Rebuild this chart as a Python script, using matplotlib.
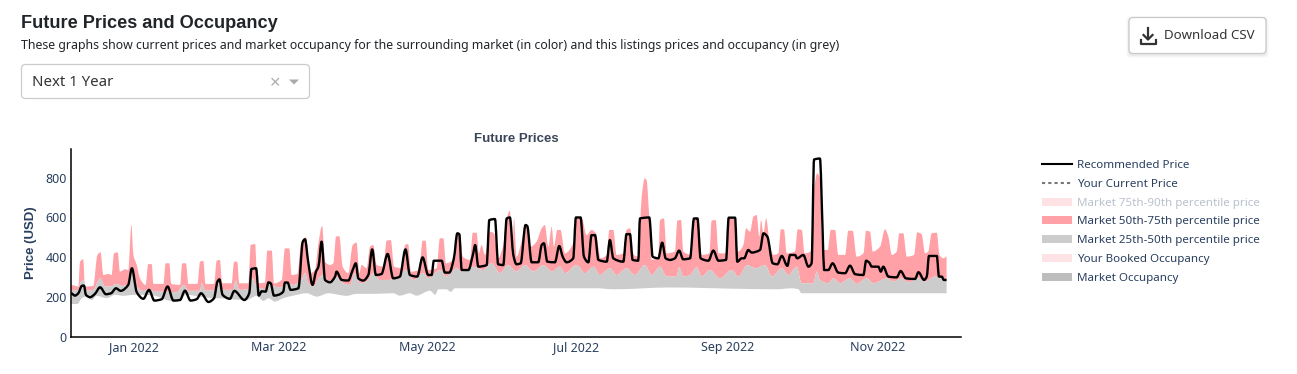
from datetime import datetime

import matplotlib.pyplot as plt
import matplotlib.dates as mdates
import numpy as np
from matplotlib.lines import Line2D
from matplotlib.patches import FancyBboxPatch, PathPatch, Patch, Polygon
from matplotlib.path import Path

plt.rcParams['font.family'] = ['Noto Sans', 'DejaVu Sans']

# days counted from the left edge of the x axis
START = datetime(2021, 12, 6, 6)

rec_days = [0, 1.6, 3, 4.4, 5.3, 6.1, 7.8, 9.8, 11.9, 14.3, 16.4, 18.4, 20.3, 23.4, 24.9, 26.9, 29.6, 31.9, 34.1,
            37.1, 39.5, 41.9, 44.6, 46.6, 48.9, 51.4, 53.2, 56.2, 58.5, 59.9, 60.7, 62, 65, 66.8, 70.9, 72.9, 73.8,
            75.7, 76.8, 78, 79.6, 80.8, 81.7, 83, 84.8, 86.8, 87.5, 88.6, 89.8, 93, 94.8, 95.7, 97, 98.8, 100.2,
            101.2, 102.5, 103.9, 105.9, 108, 108.6, 110.7, 113.4, 115.2, 116.5, 117.5, 119.5, 121.6, 123.2, 124.7,
            127, 129.5, 131.8, 134.5, 136.8, 138.6, 141.6, 143.8, 146.1, 147.5, 148.4, 151.6, 152.9, 154.7, 156.6,
            158, 158.8, 159.8, 162.5, 164.5, 165.3, 166.6, 170, 171.1, 173.4, 174.7, 176.8, 178.2, 179.5, 180.9,
            182.2, 183.9, 185.9, 186.6, 188.4, 191.1, 192.5, 193.4, 194.8, 197.9, 199.7, 201.1, 202.7, 205.4, 206.5,
            208.4, 209.8, 211.6, 212.9, 214.3, 215.7, 219.1, 220.4, 221.8, 225.9, 227.2, 228.6, 229.7, 232, 232.7,
            236.5, 237.9, 240.2, 241.8, 243.2, 245, 247, 248.7, 250.4, 253.2, 254.8, 256.2, 257.5, 260.7, 262.7,
            264.8, 267.9, 269, 271.6, 272.5, 274.3, 275.3, 277, 278.4, 281.8, 283.2, 284.8, 287, 288.9, 290.7, 293,
            294.1, 296.1, 297, 299.5, 301.6, 302.9, 303.9, 306.3, 307.4, 308, 309.7, 311.5, 313.8, 316.6, 318.6,
            320.7, 324.1, 325.2, 326.5, 327.5, 330.2, 331.2, 332.2, 334.3, 337.7, 339.3, 341.5, 345.2, 346.6, 348.9,
            350, 350.9, 354.1, 355, 356.1, 357, 358.1]
rec_price = [218, 206, 218, 255, 257, 210, 198, 215, 248, 213, 218, 243, 230, 260, 344, 223, 190, 235, 181,
             188, 252, 181, 184, 231, 181, 188, 218, 174, 193, 277, 288, 210, 190, 230, 184, 218, 340,
             344, 206, 228, 226, 273, 268, 206, 210, 226, 272, 272, 235, 243, 478, 490, 377, 260, 327,
             352, 478, 285, 273, 302, 327, 285, 282, 335, 369, 293, 282, 310, 439, 310,
             315, 416, 293, 302, 439, 310, 302, 399, 310, 310, 382, 382, 322, 322, 394,
             520, 516, 335, 335, 419, 461, 352, 360, 587, 592, 364, 360, 595, 600, 411,
             364, 369, 562, 557, 374, 374, 461, 470, 377, 374, 456, 402, 374, 394, 600,
             600, 402, 374, 511, 511, 386, 377, 486, 394, 377, 516, 516, 386, 382, 595,
             600, 402, 394, 473, 394, 386, 394, 433, 389, 394, 595, 595, 394, 382, 433,
             382, 386, 599, 599, 377, 394, 394, 436, 423, 436, 520, 503, 369, 364, 406, 356,
             411, 411, 394, 411, 352, 369, 892, 897, 537, 335, 335, 369, 322, 319, 357,
             314, 310, 382, 372, 352, 352, 327, 352, 302, 298, 330, 293, 290, 324, 285,
             302, 406, 406, 302, 302, 285, 285]

p75_days = [0, 3, 3.7, 5, 5.7, 9.1, 10.8, 12.1, 13.2, 15.3, 16.6, 17.6, 19.1, 20, 22.1, 23.4, 24.7, 25.5, 26.9, 28.2,
            30.5, 31.6, 33, 33.7, 37.8, 38.7, 40.2, 41, 44.6, 45.5, 47, 48, 51.7, 52.8, 54.1, 55, 58.5, 59.6, 60.9,
            61.8, 65.7, 66.7, 68, 68.8, 72.5, 73.5, 75.3, 76.2, 79.3, 80.3, 82.1, 83, 86.2, 87.5, 89.3, 90.2, 92.6,
            94.1, 96.1, 97.8, 99.8, 101.2, 102.7, 103.9, 105.9, 107.3, 108.4, 109.7, 111.1, 113.4, 115.2, 116.8,
            117.9, 118.9, 120.9, 122.3, 123.6, 125, 127.7, 129.1, 130.8, 132.1, 135.6, 136.6, 137.9, 139, 142.4,
            143.8, 145, 146.1, 149.5, 150.9, 152.3, 153.3, 157, 158, 159.1, 160.2, 163.2, 164.3, 165.9, 166.8,
            167.9, 169.3, 171.3, 173, 174.7, 176.8, 178.2, 179.5, 180.5, 181.2, 182.2, 184.3, 186.3, 188, 190.4,
            192.5, 193.8, 195.2, 196.6, 197.5, 198.9, 200.2, 202, 205.4, 206.8, 208.8, 210.9, 212.9, 214.7, 216.6,
            219.1, 220.2, 221.8, 223.1, 225.9, 227.2, 228.6, 230.2, 232, 233.4, 234.7, 235.4, 236.5, 237.5, 240.2,
            240.9, 242.5, 243.6, 247, 248, 249.5, 250.4, 253.9, 254.9, 256.6, 257.9, 261.1, 262, 263.7, 264.8,
            268.2, 269.1, 271.2, 272.9, 275, 276.1, 277.7, 279.1, 280.4, 281.5, 282.2, 283.2, 284.3, 285.9, 287.3,
            289.3, 290.3, 291.6, 292.7, 296.1, 297.2, 298.9, 300, 302.5, 303.6, 305.2, 306.3, 307.3, 309.5, 310.7,
            312.5, 313.8, 316.6, 317.9, 319.7, 321.3, 324.1, 325.2, 326.8, 327.9, 330.9, 332.9, 334.3, 335.7, 337.7,
            338.8, 340.4, 341.8, 344.8, 346.1, 347.9, 349.3, 350.6, 352, 354.1, 355.2, 356.8, 358.1]
p75_price = [260, 252, 377, 389, 252, 255, 411, 424, 310, 315, 310, 419, 424, 327, 339, 335, 562, 411, 360, 293,
             260, 365, 365, 265, 265, 369, 369, 265, 260, 369, 369, 265, 265, 377, 381, 265, 265, 382, 386,
             268, 268, 377, 377, 268, 268, 461, 466, 268, 272, 433, 433, 268, 285, 444, 444, 310, 315,
             470, 500, 319, 335, 470, 557, 377, 360, 369, 503, 506, 352, 319, 461, 473,
             319, 360, 344, 453, 461, 360, 352, 483, 486, 352, 344, 461, 466, 327, 335,
             483, 483, 335, 344, 495, 495, 369, 394, 520, 520, 402, 386, 523, 523, 419,
             461, 411, 528, 520, 394, 461, 595, 634, 411, 595, 402, 478, 562, 453, 478,
             545, 562, 453, 553, 453, 537, 537, 419, 470, 595, 600, 511, 537, 520, 394,
             411, 537, 537, 411, 419, 537, 545, 411, 402, 704, 797, 788, 600, 386, 402,
             587, 595, 419, 428, 584, 587, 428, 411, 600, 600, 411, 419, 584, 587, 419,
             419, 595, 595, 428, 461, 545, 528, 604, 612, 503, 587, 520, 595, 453, 411,
             419, 540, 540, 419, 428, 540, 537, 419, 428, 704, 822, 797, 436, 436, 537,
             537, 411, 411, 533, 533, 402, 419, 533, 528, 428, 453, 540, 503, 411, 428,
             520, 520, 402, 411, 525, 516, 419, 428, 520, 523, 411, 394, 402]

p50_days = [0, 3, 4, 5, 6.1, 9.1, 11.9, 13.9, 16.6, 18.4, 20.7, 23.4, 24.8, 26.2, 29.6, 31.6, 35, 39.1, 43.2, 46.2, 48,
            52.8, 53.4, 54.8, 59.6, 60.7, 62, 66.4, 67.3, 68.8, 72.5, 74.3, 76.2, 80, 81.1, 82.8, 86.2, 88.2, 90.9,
            94.3, 95.7, 97, 99.1, 101.8, 103.2, 105.2, 108.6, 111.4, 114.1, 116.1, 118.2, 120.9, 123.6, 126.3, 129.8,
            132.5, 137.3, 140, 144.1, 146.1, 150.9, 153.6, 157.7, 159.8, 164.5, 168.6, 172, 175.4, 178.8, 182.2,
            185.7, 189.1, 193.2, 196.6, 200, 202, 206.8, 210.2, 213.6, 216.3, 220.4, 223.1, 227.2, 230.6, 234.7,
            237.5, 240.9, 243.6, 247.7, 248.7, 250.4, 253.2, 255.9, 257.9, 261.3, 265.4, 270.2, 272.9, 276.6, 279.8,
            283.9, 286.6, 290.7, 293.4, 296.8, 298.8, 303.6, 305, 306.3, 309.7, 311.8, 314.5, 318.6, 321.3, 325.4,
            328.2, 333.6, 336.3, 339.7, 342.5, 346.6, 349.3, 353.4, 358.1]
p50_price = [230, 235, 277, 282, 231, 235, 293, 252, 252, 265, 255, 260, 352, 260, 230, 238, 226, 226, 223, 260, 230,
             231, 268, 231, 235, 280, 235, 235, 282, 235, 238, 293, 248, 238, 277, 252, 248, 272, 260,
             285, 319, 268, 252, 302, 310, 277, 302, 268, 260, 319, 268, 277, 319, 285, 285,
             293, 335, 285, 319, 293, 335, 302, 344, 327, 352, 335, 369, 319, 360, 327,
             360, 327, 360, 327, 352, 319, 360, 319, 352, 310, 344, 310, 344, 310, 360,
             310, 352, 302, 302, 349, 302, 310, 349, 302, 335, 293, 335, 302, 360, 344,
             360, 302, 344, 310, 352, 268, 268, 327, 285, 268, 293, 268, 293, 265, 293,
             268, 293, 277, 293, 272, 293, 277, 302, 285]

p25_days = [0, 2.6, 4.4, 6.1, 8.5, 10.5, 14.6, 18, 21.4, 25.5, 29.6, 34.1, 39.1, 42.5, 47.3, 52.8, 58.2, 60.9, 65, 71.8,
            76, 78.7, 80.7, 83.4, 86.8, 90.9, 96.4, 100.5, 105.2, 112.7, 116.8, 123.6, 131.8, 134.5, 138.6, 141.3,
            146.8, 149, 150.2, 153.6, 155.3, 157, 215, 222, 245, 275, 288.6, 294.8, 297.5, 298.8, 358.1]
p25_price = [164, 164, 193, 201, 184, 205, 193, 210, 205, 210, 210, 206, 184, 176, 210, 201, 193, 193, 188, 184,
             205, 179, 193, 176, 193, 206, 218, 201, 218, 205, 215, 215, 218, 206, 218, 206,
             231, 210, 238, 238, 225, 243, 243, 238, 247, 240, 238, 243, 238, 218, 218]

y_ticks = [0, 200, 400, 600, 800]
legend_labels = ['Recommended Price', 'Your Current Price', 'Market 75th-90th percentile price',
                 'Market 50th-75th percentile price', 'Market 25th-50th percentile price',
                 'Your Booked Occupancy', 'Market Occupancy']

W, H = 1297, 374
PLOT_TEXT = '#2a3f5f'
BOLD = ['Liberation Sans', 'DejaVu Sans']
RED = '#ffa1a6'
GREY = '#cccccc'


def spline_segments(x, y):
    # bezier segments through the read points, the original chart uses a spline line shape
    x, y = np.asarray(x, float), np.asarray(y, float)
    dx = np.diff(x)
    s = np.diff(y) / dx
    m = np.zeros(len(x))
    for i in range(1, len(x) - 1):
        if s[i - 1] * s[i] > 0:
            m[i] = 2 * s[i - 1] * s[i] / (s[i - 1] + s[i])
    verts, codes = [], []
    for i in range(len(dx)):
        verts += [(x[i] + dx[i] / 3, y[i] + m[i] * dx[i] / 3),
                  (x[i + 1] - dx[i] / 3, y[i + 1] - m[i + 1] * dx[i] / 3),
                  (x[i + 1], y[i + 1])]
        codes += [Path.CURVE4] * 3
    return verts, codes


def spline_line(ax, x, y, **kw):
    verts, codes = spline_segments(x, y)
    path = Path([(x[0], y[0])] + verts, [Path.MOVETO] + codes)
    ax.add_patch(PathPatch(path, facecolor='none', **kw))


def spline_band(ax, x1, y1, x2, y2, color):
    v1, c1 = spline_segments(x1, y1)
    v2, c2 = spline_segments(x2[::-1], y2[::-1])
    verts = [(x1[0], y1[0])] + v1 + [(x2[-1], y2[-1])] + v2 + [(x1[0], y1[0])]
    codes = [Path.MOVETO] + c1 + [Path.LINETO] + c2 + [Path.CLOSEPOLY]
    ax.add_patch(PathPatch(Path(verts, codes), facecolor=color, edgecolor='none'))


fig = plt.figure(figsize=(W / 100, H / 100), dpi=100, facecolor='white')

# page parts around the chart, in pixel coordinates
ui = fig.add_axes([0, 0, 1, 1])
ui.set_xlim(0, W)
ui.set_ylim(H, 0)
ui.axis('off')

ui.text(21, 23, 'Future Prices and Occupancy', fontsize=13.1, fontweight='bold', family=BOLD,
        color='#212529', va='center')
ui.text(21, 45.5, 'These graphs show current prices and market occupancy for the surrounding market (in color) '
        'and this listings prices and occupancy (in grey)', fontsize=8.85, color='#212529', va='center')

ui.add_patch(FancyBboxPatch((21.5, 64.5), 288, 34, boxstyle='round,pad=0,rounding_size=4',
                            facecolor='white', edgecolor='#cccccc', lw=0.9))
ui.text(32, 82.5, 'Next 1 Year', fontsize=10.8, color='#333333', va='center')
ui.plot([272, 278.5], [78.5, 85], color='#aaaaaa', lw=0.9)
ui.plot([272, 278.5], [85, 78.5], color='#aaaaaa', lw=0.9)
ui.add_patch(Polygon([[289, 79.5], [299, 79.5], [294, 84.5]], closed=True, facecolor='#aaaaaa', edgecolor='none'))

# button with a soft shadow
for grow, a in [(3, 0.015), (2, 0.025), (1, 0.04)]:
    ui.add_patch(FancyBboxPatch((1129 - grow, 18 - grow + 1), 137 + 2 * grow, 36 + 2 * grow,
                                boxstyle='round,pad=0,rounding_size=4', facecolor='black',
                                edgecolor='none', alpha=a))
ui.add_patch(FancyBboxPatch((1129, 17.5), 137, 36, boxstyle='round,pad=0,rounding_size=4',
                            facecolor='white', edgecolor='#c8c8c8', lw=0.9))
ui.plot([1148, 1148], [28, 39], color='#333333', lw=1.6)
ui.plot([1143.5, 1148, 1152.5], [35, 39.5, 35], color='#333333', lw=1.6)
ui.plot([1140.5, 1140.5, 1155.5, 1155.5], [40, 43.5, 43.5, 40], color='#333333', lw=1.6)
ui.text(1164, 35, 'Download CSV', fontsize=9.55, color='#333333', va='center')

ui.text(516, 138.5, 'Future Prices', fontsize=9.5, fontweight='bold', family=BOLD, color='#3a4558',
        ha='center', va='center')

# chart
left, right, top, bottom = 71, 961, 149, 336.5
ax = fig.add_axes([left / W, 1 - bottom / H, (right - left) / W, (bottom - top) / H])
ax.patch.set_alpha(0)

t0 = mdates.date2num(START)
spline_band(ax, t0 + np.array(p75_days), p75_price, t0 + np.array(p50_days), p50_price, RED)
spline_band(ax, t0 + np.array(p50_days), p50_price, t0 + np.array(p25_days), p25_price, GREY)
spline_line(ax, t0 + np.array(rec_days), rec_price, edgecolor='black', lw=1.7, joinstyle='round', zorder=3)

ax.set_xlim(t0, t0 + 364)
ax.set_ylim(0, 945)
ax.set_yticks(y_ticks)
ax.xaxis.set_major_locator(mdates.MonthLocator(bymonth=[1, 3, 5, 7, 9, 11]))
ax.xaxis.set_major_formatter(mdates.DateFormatter('%b %Y'))
ax.tick_params(axis='both', length=0, labelsize=9, labelcolor=PLOT_TEXT)
ax.tick_params(axis='x', pad=3.5)
ax.tick_params(axis='y', pad=3)
ax.spines[['top', 'right']].set_visible(False)
ax.spines[['left', 'bottom']].set_linewidth(1.1)
ui.text(31, 243, 'Price (USD)', fontsize=9.5, fontweight='bold', family=BOLD, color=PLOT_TEXT,
        rotation=90, ha='center', va='center')

handles = [
    Line2D([], [], color='black', lw=1.5),
    Line2D([], [], color='#777777', lw=1.5, ls=(0, (1.5, 1.5))),
    Patch(facecolor='#ffe3e4', edgecolor='none'),
    Patch(facecolor=RED, edgecolor='none'),
    Patch(facecolor=GREY, edgecolor='none'),
    Patch(facecolor='#fde3e5', edgecolor='none'),
    Patch(facecolor='#bdbdbd', edgecolor='none'),
]
leg = fig.legend(handles, legend_labels, loc='upper left', bbox_to_anchor=(1042 / W, 1 - 160 / H),
                 bbox_transform=fig.transFigure, frameon=False, fontsize=8.35, borderaxespad=0, borderpad=0,
                 handlelength=2.6, handleheight=0.7, handletextpad=0.44, labelspacing=0.66)
for i, txt in enumerate(leg.get_texts()):
    txt.set_color('#b9c1cc' if i == 2 else PLOT_TEXT)

fig.savefig('out.png', dpi=100)
